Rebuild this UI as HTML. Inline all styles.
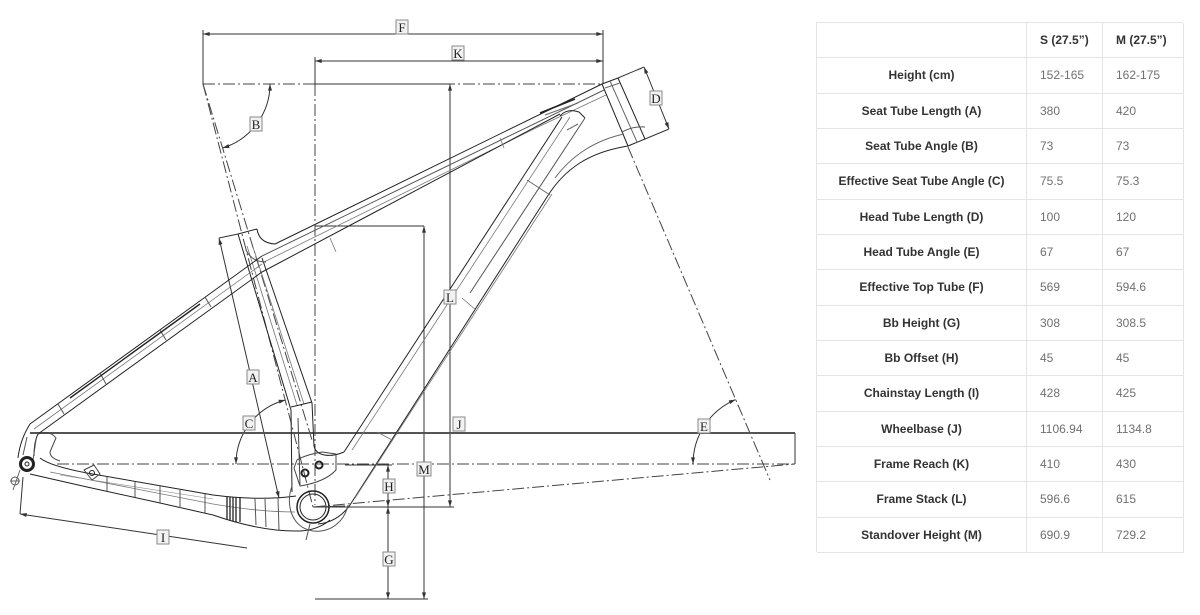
<!DOCTYPE html>
<html><head><meta charset="utf-8">
<style>
html,body{margin:0;padding:0;background:#fff;}
body{width:1200px;height:615px;position:relative;overflow:hidden;font-family:"Liberation Sans",Arial,sans-serif;}
svg{position:absolute;left:0;top:0;}
.tbl{position:absolute;left:816px;top:22px;width:367px;height:530px;display:grid;grid-template-columns:210px 76px 81px;grid-template-rows:repeat(15,35.33px);border-top:1px solid #e4e4e4;border-left:1px solid #e4e4e4;box-sizing:border-box;}
.tbl div{border-right:1px solid #e4e4e4;border-bottom:1px solid #e4e4e4;display:flex;align-items:center;font-size:12px;box-sizing:border-box;}
.tbl .l{justify-content:center;font-weight:bold;color:#333;}
.tbl .v{padding-left:13px;color:#707070;}
.tbl .h{padding-left:13px;font-weight:bold;color:#333;}
</style></head><body>
<svg width="1200" height="615" viewBox="0 0 1200 615">
<defs>
<marker id="a" viewBox="0 0 10 6" refX="10" refY="3" markerWidth="8" markerHeight="4" markerUnits="userSpaceOnUse" orient="auto-start-reverse"><path d="M0,0L10,3L0,6z" fill="#333"/></marker>
</defs>
<!-- dash-dot reference lines -->
<g fill="none" stroke="#444" stroke-width="1" stroke-dasharray="12 3 2 3">
<line x1="203" y1="84" x2="603" y2="84"/>
<line x1="315" y1="84" x2="315" y2="505"/>
<line x1="203" y1="84" x2="313" y2="507"/>
<line x1="203" y1="84" x2="312" y2="440"/>
<line x1="57" y1="464" x2="795" y2="464"/>
<line x1="628" y1="147" x2="770" y2="480"/>
<line x1="313" y1="507" x2="795" y2="464"/>
</g>
<!-- dimension lines -->
<g fill="none" stroke="#333" stroke-width="1">
<line x1="203" y1="34" x2="603" y2="34" marker-start="url(#a)" marker-end="url(#a)"/>
<line x1="203" y1="30" x2="203" y2="84"/>
<line x1="603" y1="30" x2="603" y2="84"/>
<line x1="315" y1="61" x2="603" y2="61" marker-start="url(#a)" marker-end="url(#a)"/>
<line x1="315" y1="57" x2="315" y2="84"/>
<line x1="315" y1="84" x2="450" y2="84"/>
<line x1="450" y1="84" x2="450" y2="507" marker-start="url(#a)" marker-end="url(#a)"/>
<line x1="313" y1="507" x2="454" y2="507"/>
<line x1="315" y1="226" x2="424" y2="226"/>
<line x1="424" y1="226" x2="424" y2="599" marker-start="url(#a)" marker-end="url(#a)"/>
<line x1="315" y1="599" x2="428" y2="599"/>
<line x1="345" y1="465" x2="392" y2="465"/>
<line x1="388" y1="465" x2="388" y2="507" marker-start="url(#a)" marker-end="url(#a)"/>
<line x1="388" y1="507" x2="388" y2="599" marker-start="url(#a)" marker-end="url(#a)"/>
<line x1="795" y1="433" x2="795" y2="464"/>
<line x1="618" y1="78" x2="644" y2="67"/>
<line x1="645" y1="139" x2="669" y2="129"/>
<line x1="644" y1="67" x2="669" y2="129" marker-start="url(#a)" marker-end="url(#a)"/>
<line x1="219" y1="238" x2="238" y2="234"/>
<line x1="219" y1="238" x2="279" y2="498" marker-start="url(#a)" marker-end="url(#a)"/>
<line x1="23" y1="477" x2="20" y2="514"/>
<line x1="20" y1="514" x2="247" y2="548" marker-start="url(#a)"/>
<path d="M270 84 A67 67 0 0 1 222.6 148" marker-start="url(#a)" marker-end="url(#a)"/>
<path d="M285.4 400 A66 66 0 0 0 236 464" marker-start="url(#a)" marker-end="url(#a)"/>
<path d="M735.6 399.6 A70 70 0 0 0 693 464" marker-start="url(#a)" marker-end="url(#a)"/>
</g>
<line x1="30" y1="433" x2="795" y2="433" stroke="#555" stroke-width="2"/>
<!-- frame -->
<g fill="none" stroke="#222" stroke-width="1" stroke-linejoin="round">
<!-- head tube -->
<path d="M602 84 L618 78 L645 139 L628 146 Z"/>
<path d="M610 81 L637 142" stroke="#666"/>
<path d="M622 132 Q633 126 645 127" stroke="#555"/>
<path d="M605 88 L620 83" stroke="#666"/>
<!-- top tube -->
<path d="M257 229 Q259 243 275 244 L602 84"/>
<path d="M262 256 L604 90" stroke="#555"/>
<path d="M264 262 L540 126 L606 95" stroke="#777" stroke-width="0.8"/>
<path d="M262 272 L560 114"/>
<path d="M540 113 L575 99" stroke-width="1.6"/>
<path d="M545 115 L578 103" stroke="#666"/>
<path d="M330 238 L336 252" stroke="#777" stroke-width="0.8"/>
<path d="M500 138 L504 148" stroke="#777" stroke-width="0.8"/>
<!-- down tube -->
<path d="M560 116 Q567 108 579 112 L585 118"/>
<path d="M562 117 L344 452"/>
<path d="M570 117 L352 450" stroke="#777" stroke-width="0.8"/>
<path d="M585 118 L470 293" stroke="#555"/>
<path d="M628 146 C590 152 565 168 547 197 L350 505 Q338 522 318 524"/>
<path d="M552 194 L355 498" stroke="#777" stroke-width="0.8"/>
<path d="M555 178 C572 155 596 140 624 134" stroke="#666"/>
<path d="M527 180 L550 195" stroke="#666"/>
<path d="M567 130 L578 124" stroke="#666"/>
<path d="M462 298 L476 310" stroke="#777" stroke-width="0.8"/>
<path d="M377 432 L392 440" stroke="#777" stroke-width="0.8"/>
<!-- seat tube -->
<path d="M238 234 L257 229"/>
<path d="M238 234 L291 410 L292 492"/>
<path d="M262 258 L312 403 L314 446 C316 456 330 458 344 452"/>
<path d="M247 246 L297 405" stroke="#777" stroke-width="0.8"/>
<path d="M253 247 L304 404" stroke="#777" stroke-width="0.8"/>
<path d="M291 407 L312 402"/>
<path d="M298 418 L300 485" stroke="#444"/>
<path d="M246 250 Q252 262 266 262" stroke="#555"/>
<!-- seat stays -->
<path d="M18 458 Q20 440 30 424 L262 256"/>
<path d="M34 456 Q34 442 38 434 L262 272"/>
<path d="M34 429 L262 264" stroke="#777" stroke-width="0.8"/>
<path d="M58 404 L64 414 M100 373 L106 384 M160 330 L166 340 M205 297 L211 307" stroke="#555"/>
<path d="M70 398 L200 304" stroke-width="1.4"/>
<!-- dropout -->
<path d="M38 434 Q50 430 56 438 Q52 447 50 452 Q50 458 60 461" stroke="#444"/>
<path d="M27 437 L23 455 M36 440 L33 460" stroke="#555"/>
<circle cx="27" cy="464" r="6.5" stroke-width="3"/>
<circle cx="27" cy="464" r="2"/>
<circle cx="15" cy="481" r="4" stroke="#555"/>
<path d="M20 470 L13 490 M10 481 L20 481" stroke="#666"/>
<!-- chainstay -->
<path d="M40 458 Q50 466 87 473 L213 495 Q260 501 296 496"/>
<path d="M30 474 L87 487 L160 503 L213 515 Q262 532 300 531 Q318 530 330 520"/>
<path d="M50 472 L213 504 Q260 512 295 512" stroke="#777" stroke-width="0.8"/>
<path d="M60 475 L213 499" stroke="#888" stroke-width="0.6"/>
<path d="M107 477 L107 491 M135 482 L135 497 M160 486 L160 503 M180 489 L180 508 M205 494 L205 513 M255 499 L256 525 M265 499 L266 527 M278 498 L279 530" stroke="#555"/>
<path d="M227 497 L227 520 M230 497 L230 521 M233 497 L233 521 M236 497 L236 522 M240 497 L240 522" stroke-width="1.3"/>
<path d="M84 470 L94 465 L100 474 L92 480 Z" stroke="#444"/>
<circle cx="92" cy="473" r="2.5"/>
<!-- BB -->
<circle cx="313" cy="507" r="16" stroke-width="1.5"/>
<circle cx="313" cy="507" r="13"/>
<path d="M292 486 C285 505 292 528 313 531 C332 533 345 520 348 505" stroke="#555"/>
<path d="M294 468 L297 460 Q305 455 322 452 L336 454 L336 470 Q325 482 300 486 Z" stroke="#444"/>
<circle cx="305" cy="473" r="3.5" stroke-width="2"/>
<circle cx="319" cy="465" r="3.5" stroke-width="2"/>
<path d="M313 507 L345 506" stroke="#444"/>
<path d="M310 524 L306 540" stroke="#555"/>
</g>
<!-- labels -->
<g font-family="Liberation Serif, serif" font-size="13" fill="#222" text-anchor="middle">
<g stroke="#8a8a8a" stroke-width="1" fill="#f2f2f2">
<rect x="396" y="20" width="12" height="14"/>
<rect x="452" y="46" width="12" height="14"/>
<rect x="650" y="91" width="12" height="14"/>
<rect x="250" y="117" width="12" height="14"/>
<rect x="444" y="290" width="12" height="14"/>
<rect x="247" y="370" width="12" height="14"/>
<rect x="243" y="416" width="12" height="14"/>
<rect x="453" y="417" width="12" height="14"/>
<rect x="698" y="419" width="12" height="14"/>
<rect x="417" y="462" width="14" height="14"/>
<rect x="383" y="479" width="12" height="14"/>
<rect x="383" y="552" width="12" height="14"/>
<rect x="157" y="530" width="12" height="14"/>
</g>
<text x="402" y="32">F</text>
<text x="458" y="58">K</text>
<text x="656" y="103">D</text>
<text x="256" y="129">B</text>
<text x="450" y="302">L</text>
<text x="253" y="382">A</text>
<text x="249" y="428">C</text>
<text x="459" y="429">J</text>
<text x="704" y="431">E</text>
<text x="424" y="474">M</text>
<text x="389" y="491">H</text>
<text x="389" y="564">G</text>
<text x="163" y="542">I</text>
</g>
</svg>
<div class="tbl">
<div></div><div class="h">S (27.5”)</div><div class="h">M (27.5”)</div>
<div class="l">Height (cm)</div><div class="v">152-165</div><div class="v">162-175</div>
<div class="l">Seat Tube Length (A)</div><div class="v">380</div><div class="v">420</div>
<div class="l">Seat Tube Angle (B)</div><div class="v">73</div><div class="v">73</div>
<div class="l">Effective Seat Tube Angle (C)</div><div class="v">75.5</div><div class="v">75.3</div>
<div class="l">Head Tube Length (D)</div><div class="v">100</div><div class="v">120</div>
<div class="l">Head Tube Angle (E)</div><div class="v">67</div><div class="v">67</div>
<div class="l">Effective Top Tube (F)</div><div class="v">569</div><div class="v">594.6</div>
<div class="l">Bb Height (G)</div><div class="v">308</div><div class="v">308.5</div>
<div class="l">Bb Offset (H)</div><div class="v">45</div><div class="v">45</div>
<div class="l">Chainstay Length (I)</div><div class="v">428</div><div class="v">425</div>
<div class="l">Wheelbase (J)</div><div class="v">1106.94</div><div class="v">1134.8</div>
<div class="l">Frame Reach (K)</div><div class="v">410</div><div class="v">430</div>
<div class="l">Frame Stack (L)</div><div class="v">596.6</div><div class="v">615</div>
<div class="l">Standover Height (M)</div><div class="v">690.9</div><div class="v">729.2</div>
</div>
</body></html>
